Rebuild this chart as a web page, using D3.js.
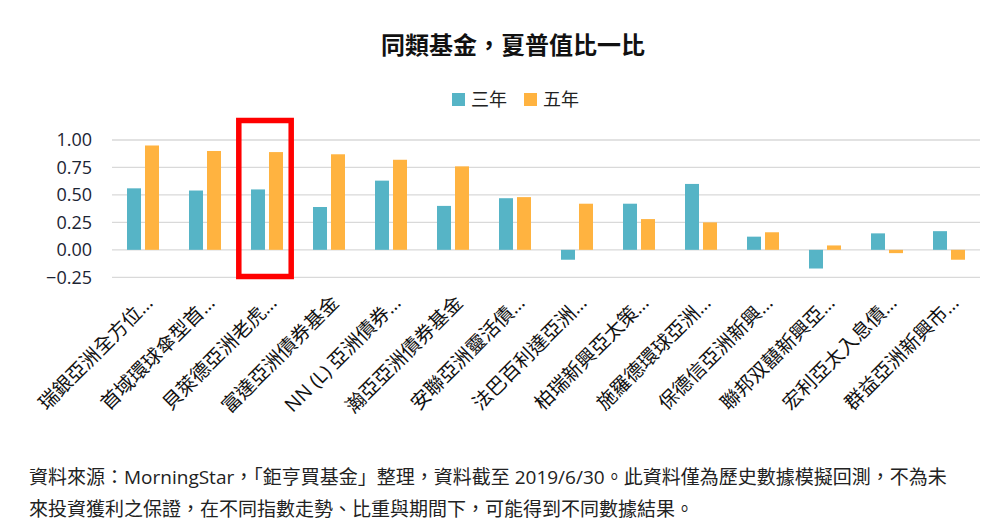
<!DOCTYPE html>
<html>
    <head>
        <meta charset="utf-8">
        <script src="https://d3js.org/d3.v7.min.js"></script>
        <style>
            body { margin: 0; background: #fff; }
            svg text { font-family: "Open Sans", "Noto Sans CJK TC", sans-serif; }
        </style>
    </head>
    <body>
        <div id="chart"></div>
        <script>
            // fund names as shown (already truncated in the original)
            const funds = [
                "瑞銀亞洲全方位…", "首域環球傘型首…", "貝萊德亞洲老虎…", "富達亞洲債券基金",
                "NN (L) 亞洲債券…", "瀚亞亞洲債券基金", "安聯亞洲靈活債…", "法巴百利達亞洲…",
                "柏瑞新興亞太策…", "施羅德環球亞洲…", "保德信亞洲新興…", "聯邦双囍新興亞…",
                "宏利亞太入息債…", "群益亞洲新興市…"
            ];
            const seriesNames = ["三年", "五年"];
            const sharpe3y = [0.56, 0.54, 0.55, 0.39, 0.63, 0.40, 0.47, -0.09, 0.42, 0.60, 0.12, -0.17, 0.15, 0.17];
            const sharpe5y = [0.95, 0.90, 0.89, 0.87, 0.82, 0.76, 0.48, 0.42, 0.28, 0.25, 0.16, 0.04, -0.03, -0.09];
            const yTicks = [-0.25, 0, 0.25, 0.5, 0.75, 1.0];
            const highlighted = "貝萊德亞洲老虎…";
            const footnote = [
                "資料來源：MorningStar，「鉅亨買基金」整理，資料截至 2019/6/30。此資料僅為歷史數據模擬回測，不為未",
                "來投資獲利之保證，在不同指數走勢、比重與期間下，可能得到不同數據結果。"
            ];

            const colors = ["#56b4c6", "#ffb340"];
            const width = 997, height = 530;

            const svg = d3.select('#chart').append('svg')
                .attr('width', width)
                .attr('height', height);

            const x0 = d3.scaleBand().domain(funds).range([112, 980]);
            const x1 = d3.scaleBand().domain(seriesNames).range([15, 47]).paddingInner(0.222);
            const y = d3.scaleLinear().domain([-0.25, 1.0]).range([277.3, 140]);

            // title
            svg.append('text')
                .attr('x', 513).attr('y', 54)
                .attr('text-anchor', 'middle')
                .style('font-size', '24px')
                .style('font-weight', 'bold')
                .style('font-family', '"Noto Sans CJK TC", sans-serif')
                .attr('fill', '#111')
                .text('同類基金，夏普值比一比');

            // legend
            const legend = svg.append('g');
            const legendX = [452, 524];
            seriesNames.forEach((s, i) => {
                legend.append('rect')
                    .attr('x', legendX[i]).attr('y', 93)
                    .attr('width', 13).attr('height', 13)
                    .attr('fill', colors[i]);
                legend.append('text')
                    .attr('x', legendX[i] + 19).attr('y', 106)
                    .style('font-size', '18px')
                    .style('font-family', '"Noto Sans CJK TC", sans-serif')
                    .attr('fill', '#222')
                    .text(s);
            });

            // grid lines
            svg.append('g')
                .selectAll('line')
                .data(yTicks)
                .join('line')
                    .attr('x1', 112).attr('x2', 980)
                    .attr('y1', d => y(d)).attr('y2', d => y(d))
                    .attr('stroke', '#d9d9d9')
                    .attr('stroke-width', 1.3);

            // y axis labels
            const yAxis = svg.append('g')
                .attr('transform', 'translate(92,0)')
                .call(d3.axisLeft(y).tickValues(yTicks).tickFormat(d3.format('.2f')).tickSize(0).tickPadding(0));
            yAxis.select('.domain').remove();
            yAxis.selectAll('text')
                .style('font-size', '18px')
                .style('font-family', '"Open Sans", sans-serif')
                .attr('fill', '#1c2433');

            // bars
            const rows = funds.map((f, i) => ({fund: f, values: [sharpe3y[i], sharpe5y[i]]}));
            const groups = svg.append('g')
                .selectAll('g')
                .data(rows)
                .join('g')
                    .attr('transform', d => `translate(${x0(d.fund)},0)`);
            groups.selectAll('rect')
                .data(d => d.values.map((v, i) => ({series: seriesNames[i], value: v, i: i})))
                .join('rect')
                    .attr('x', d => x1(d.series))
                    .attr('width', x1.bandwidth())
                    .attr('y', d => y(Math.max(0, d.value)))
                    .attr('height', d => Math.abs(y(d.value) - y(0)))
                    .attr('fill', d => colors[d.i]);

            // category labels
            svg.append('g')
                .selectAll('text')
                .data(funds)
                .join('text')
                    .attr('transform', d => `translate(${x0(d) + x0.bandwidth() / 2 + 11},304) rotate(-45)`)
                    .attr('text-anchor', 'end')
                    .style('font-size', '19.5px')
                    .style('font-family', '"Open Sans", "Noto Sans CJK TC", sans-serif')
                    .attr('fill', '#111')
                    .text(d => d);

            // red highlight box
            svg.append('rect')
                .attr('x', x0(highlighted) + 2.8)
                .attr('y', 120.5)
                .attr('width', 52.4)
                .attr('height', 156)
                .attr('fill', 'none')
                .attr('stroke', '#ff0000')
                .attr('stroke-width', 5.5);

            // footnote
            svg.append('g')
                .selectAll('text')
                .data(footnote)
                .join('text')
                    .attr('x', 29)
                    .attr('y', (d, i) => 484 + i * 32)
                    .style('font-size', '19px')
                    .style('font-family', '"Open Sans", "Noto Sans CJK TC", sans-serif')
                    .attr('fill', '#222')
                    .text(d => d);
        </script>
    </body>
</html>
